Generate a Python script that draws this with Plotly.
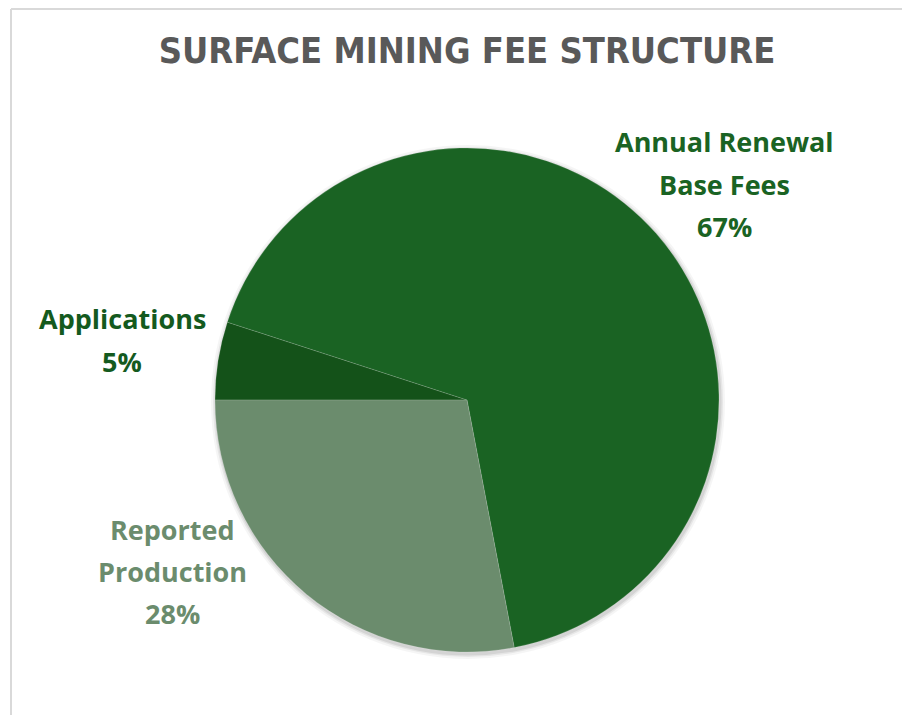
import plotly.graph_objects as go

W, H = 910, 715
OFF = 8  # page body margin

labels = ["Applications", "Annual Renewal Base Fees", "Reported Production"]
shares = [5, 67, 28]
slice_colors = ["#145219", "#1a6323", "#6b8c6d"]
text_colors = ["#145a1e", "#1a6323", "#6b8c6d"]

# label lines and where (in pixels) each label block sits
label_lines = [["Applications", "5%"], ["Annual Renewal", "Base Fees", "67%"], ["Reported", "Production", "28%"]]
label_pos = [(122, 319), (724, 142), (172, 529)]
line_gap = 42


def px(x, y):
    return (x - OFF) / W, 1 - (y - OFF) / H


fig = go.Figure()

cx, cy, r = 467, 400, 252
x0, y1 = px(cx - r, cy - r)
x1, y0 = px(cx + r, cy + r)

# soft shadow behind the pie
for grow, alpha in [(5, 0.04), (3, 0.06), (1.5, 0.08)]:
    sx0, sy1 = px(cx - r - grow + 1, cy - r - grow + 2)
    sx1, sy0 = px(cx + r + grow + 1, cy + r + grow + 2)
    fig.add_shape(type="circle", xref="paper", yref="paper", x0=sx0, y0=sy0, x1=sx1, y1=sy1,
                  fillcolor=f"rgba(0,0,0,{alpha})", line=dict(width=0), layer="below")

fig.add_trace(go.Pie(
    labels=labels,
    values=shares,
    sort=False,
    direction="clockwise",
    rotation=270,
    marker=dict(colors=slice_colors, line=dict(color="rgba(255,255,255,0.25)", width=0.6)),
    textinfo="none",
    hoverinfo="label+percent",
    showlegend=False,
    domain=dict(x=[x0, x1], y=[y0, y1]),
))

for lines, (lx, ly), col in zip(label_lines, label_pos, text_colors):
    for i, t in enumerate(lines):
        ax, ay = px(lx, ly + i * line_gap)
        fig.add_annotation(
            x=ax, y=ay, xref="paper", yref="paper",
            text=f"<b>{t}</b>", showarrow=False,
            font=dict(family="Open Sans, Roboto, sans-serif", size=27, color=col),
            xanchor="center", yanchor="middle",
        )

# frame lines of the chart area
bx, by = px(11, 9)
fig.add_shape(type="line", xref="paper", yref="paper", x0=bx, y0=by, x1=1, y1=by,
              line=dict(color="#d9d9d9", width=2))
fig.add_shape(type="line", xref="paper", yref="paper", x0=bx, y0=0, x1=bx, y1=by,
              line=dict(color="#d9d9d9", width=2))

tx, ty = px(467, 50)
fig.update_layout(
    width=W, height=H,
    margin=dict(l=0, r=0, t=0, b=0),
    paper_bgcolor="white",
    plot_bgcolor="white",
    title=dict(
        text="<b>SURFACE MINING FEE STRUCTURE</b>",
        x=tx, y=ty, xanchor="center", yanchor="middle",
        font=dict(family="Liberation Sans Narrow, DejaVu Sans Condensed, Roboto Condensed, sans-serif",
                  size=36, color="#595959"),
    ),
)

fig.write_html("out.html")
